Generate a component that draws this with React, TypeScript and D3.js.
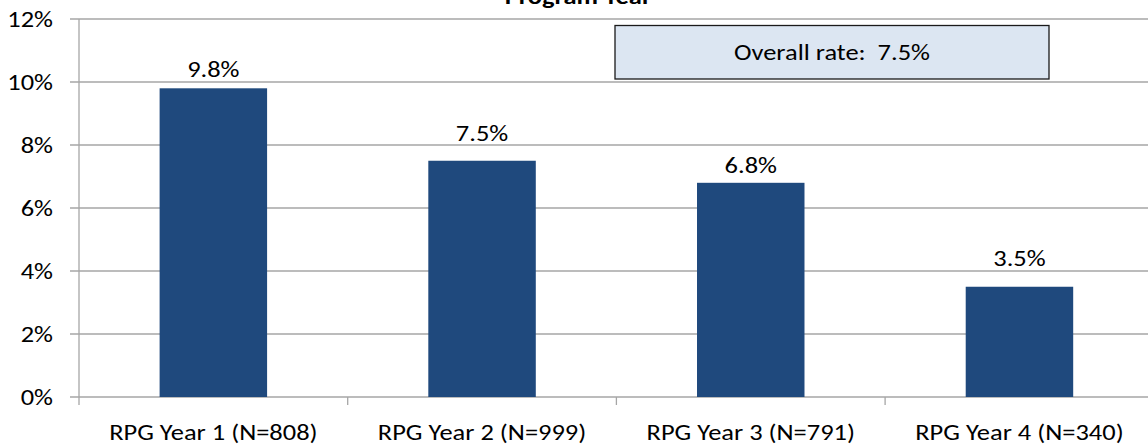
import React, { useEffect } from 'react';
import * as d3 from 'd3';

const categories = ['RPG Year 1 (N=808)', 'RPG Year 2 (N=999)', 'RPG Year 3 (N=791)', 'RPG Year 4 (N=340)'];
const rates = [9.8, 7.5, 6.8, 3.5];
const yTicks = [0, 2, 4, 6, 8, 10, 12];
const title = 'Program Year';
const overallLabel = 'Overall rate:  7.5%';

const W = 1148;
const H = 446;
const FONT = 'Carlito, "Open Sans", sans-serif';
const FS = 23;
const STRETCH = 1.15; // source picture is a bit wider than tall

// gap between bar top and its label (the original places them unevenly)
const labelGap = [11, 20, 10, 21];

type LabelProps = { x: number; y: number; anchor?: string; dy?: string; bold?: boolean; children: React.ReactNode };

const Label = ({ x, y, anchor = 'middle', dy, bold, children }: LabelProps) => (
    <text
        transform={`translate(${x},${y}) scale(${STRETCH},1)`}
        textAnchor={anchor}
        dy={dy}
        fontSize={FS}
        fontWeight={bold ? 'bold' : 'normal'}
        fill="#000"
        style={{ whiteSpace: 'pre' }}
    >
        {children}
    </text>
);

const App = () => {
    useEffect(() => {
        document.body.style.margin = '0';
    }, []);

    const left = 79;
    const x = d3.scaleBand<string>()
        .domain(categories)
        .range([left, left + 4 * 268.7])
        .paddingInner(0.6)
        .paddingOuter(0.3);
    const y = d3.scaleLinear().domain([0, 12]).range([397, 19]);
    const step = x.step();
    const bounds = d3.range(categories.length + 1).map(i => left + i * step);
    const grid = '#a6a6a6';

    return (
        <svg width={W} height={H} style={{ display: 'block' }} fontFamily={FONT}>
            {/* gridlines + y labels */}
            {yTicks.map(t => (
                <g key={t}>
                    <line x1={70} x2={W} y1={y(t)} y2={y(t)} stroke={grid} strokeWidth={1.3} />
                    <Label x={53} y={y(t)} anchor="end" dy="0.34em">{t}%</Label>
                </g>
            ))}
            <line x1={left} x2={left} y1={y(12)} y2={y(0) + 8} stroke={grid} strokeWidth={1.3} />
            {bounds.slice(1).map((b, i) => (
                <line key={i} x1={b} x2={b} y1={y(0)} y2={y(0) + 8} stroke={grid} strokeWidth={1.3} />
            ))}

            {/* bars */}
            {categories.map((c, i) => {
                const cx = x(c)! + x.bandwidth() / 2;
                return (
                    <g key={c}>
                        <rect x={x(c)} y={y(rates[i])} width={x.bandwidth()} height={y(0) - y(rates[i])} fill="#1f497d" />
                        <Label x={cx} y={y(rates[i]) - labelGap[i]}>{rates[i].toFixed(1)}%</Label>
                        <Label x={cx} y={440}>{c}</Label>
                    </g>
                );
            })}

            {/* overall rate box */}
            <rect x={615} y={25.5} width={434} height={53.5} fill="#dce6f2" stroke="#1a1a1a" strokeWidth={1.3} />
            <Label x={832} y={60}>{overallLabel}</Label>

            {/* title, cut off at top as in the source */}
            <Label x={578} y={4} bold>{title}</Label>
        </svg>
    );
};

export default App;
